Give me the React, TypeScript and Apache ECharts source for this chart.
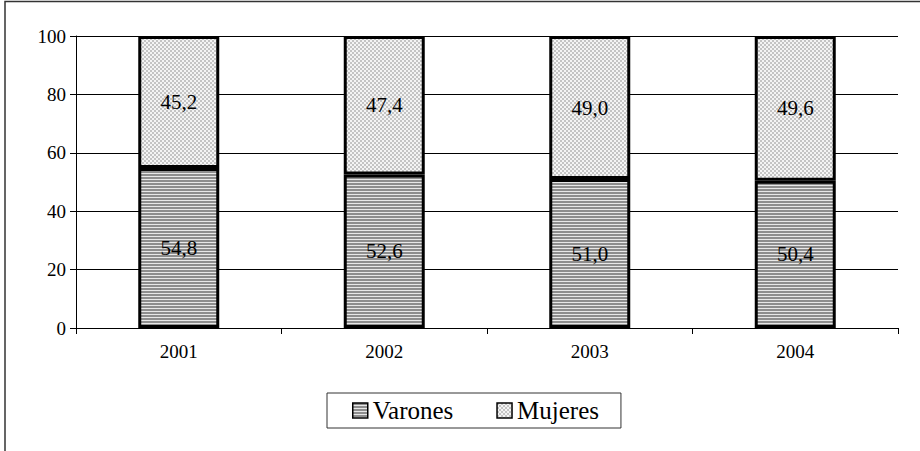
import React, { useEffect, useRef } from "react";
import * as echarts from "echarts";

const categories = ["2001", "2002", "2003", "2004"];
const varones = [54.8, 52.6, 51.0, 50.4];
const mujeres = [45.2, 47.4, 49.0, 49.6];
const seriesNames = ["Varones", "Mujeres"];

const FONT = "Liberation Serif";

function makeStripes(): HTMLCanvasElement {
  const c = document.createElement("canvas");
  c.width = 3;
  c.height = 3;
  const ctx = c.getContext("2d")!;
  ctx.fillStyle = "#e8e8e8";
  ctx.fillRect(0, 0, 3, 3);
  ctx.fillStyle = "#8e8e8e";
  ctx.fillRect(0, 0, 3, 2);
  return c;
}

function makeChecker(): HTMLCanvasElement {
  const c = document.createElement("canvas");
  c.width = 4;
  c.height = 4;
  const ctx = c.getContext("2d")!;
  ctx.fillStyle = "#f4f4f4";
  ctx.fillRect(0, 0, 4, 4);
  ctx.fillStyle = "#c4c4c4";
  ctx.fillRect(0, 0, 2, 2);
  ctx.fillRect(2, 2, 2, 2);
  return c;
}

const fmt = (v: number) => v.toFixed(1).replace(".", ",");

export default function App() {
  const ref = useRef<HTMLDivElement>(null);
  useEffect(() => {
    if (!ref.current) return;
    const chart = echarts.init(ref.current, undefined, { renderer: "svg" });
    const stripes = { image: makeStripes(), repeat: "repeat" as const };
    const checker = { image: makeChecker(), repeat: "repeat" as const };
    const labelStyle = {
      show: true,
      position: "inside" as const,
      color: "#000",
      fontFamily: FONT,
      fontSize: 21,
      formatter: (p: any) => fmt(p.value),
    };
    chart.setOption({
      animation: false,
      backgroundColor: "#fff",
      textStyle: { fontFamily: FONT },
      grid: { left: 76, right: 22, top: 36, bottom: 123 },
      xAxis: {
        type: "category",
        data: categories,
        axisLine: { lineStyle: { color: "#000", width: 1 } },
        axisTick: { show: true, length: 6, lineStyle: { color: "#000" } },
        axisLabel: { color: "#000", fontFamily: FONT, fontSize: 19, margin: 14 },
        splitLine: { show: false },
      },
      yAxis: {
        type: "value",
        min: 0,
        max: 100,
        interval: 20,
        axisLine: { show: true, lineStyle: { color: "#000", width: 1 } },
        axisTick: { show: true, length: 6, lineStyle: { color: "#000" } },
        axisLabel: { color: "#000", fontFamily: FONT, fontSize: 19, margin: 10 },
        splitLine: { show: true, lineStyle: { color: "#000", width: 1 } },
      },
      legend: {
        left: 327,
        top: 393,
        orient: "horizontal",
        icon: "rect",
        itemWidth: 15,
        itemHeight: 15,
        itemGap: 43,
        padding: [5, 22, 5, 25],
        borderColor: "#333",
        borderWidth: 1,
        textStyle: { color: "#000", fontFamily: FONT, fontSize: 25 },
        data: [
          { name: seriesNames[0], itemStyle: { borderWidth: 1.5, borderColor: "#000" } },
          { name: seriesNames[1], itemStyle: { borderWidth: 1.5, borderColor: "#000" } },
        ],
      },
      graphic: [
        {
          type: "polyline",
          shape: { points: [[5, 460], [5, 1.5], [930, 1.5]] },
          style: { stroke: "#333", lineWidth: 1.5, fill: "none" },
          silent: true,
        },
      ],
      series: [
        {
          name: seriesNames[0],
          type: "bar",
          stack: "total",
          barWidth: 81,
          data: varones,
          itemStyle: { color: stripes, borderColor: "#000", borderWidth: 3 },
          label: labelStyle,
        },
        {
          name: seriesNames[1],
          type: "bar",
          stack: "total",
          barWidth: 81,
          data: mujeres,
          itemStyle: { color: checker, borderColor: "#000", borderWidth: 3 },
          label: labelStyle,
        },
      ],
    });
    return () => chart.dispose();
  }, []);
  return <div ref={ref} style={{ width: 920, height: 451, position: "absolute", left: 0, top: 0 }} />;
}
